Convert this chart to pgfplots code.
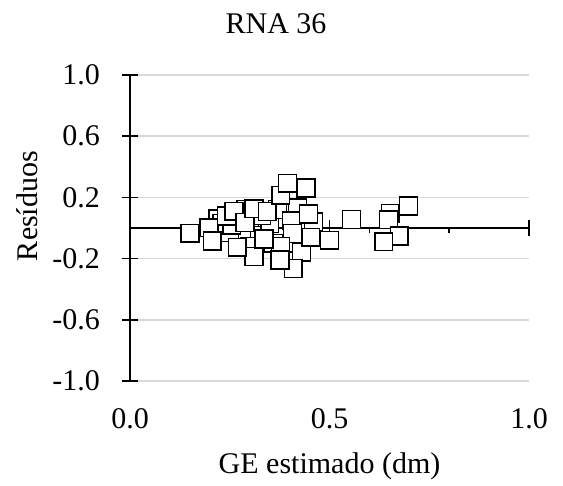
\documentclass[border=0pt]{standalone}
\usepackage{fontspec}
\setmainfont{Liberation Serif}
\usepackage{pgfplots}
\pgfplotsset{compat=1.18}
\begin{document}
\fontsize{30bp}{36bp}\selectfont
\begin{tikzpicture}
\path[use as bounding box] (0,0) rectangle (563bp,486bp);
\begin{axis}[
  scale only axis, width=399bp, height=306bp,
  at={(130bp,105bp)}, anchor=south west,
  xmin=0, xmax=1, ymin=-1, ymax=1,
  clip=false,
  axis line style={draw=none},
  xtick={0,0.5,1}, xticklabels={0.0,0.5,1.0},
  x tick style={draw=none},
  xtick pos=bottom,
  xticklabel style={anchor=base, yshift=-39bp, font=\fontsize{30bp}{36bp}\selectfont},
  ytick={-1,-0.6,-0.2,0.2,0.6,1}, yticklabels={-1.0,-0.6,-0.2,0.2,0.6,1.0},
  ytick pos=left,
  y tick style={black, line width=1.5bp},
  tick align=center, major tick length=16bp,
  yticklabel style={anchor=east, xshift=-12bp, font=\fontsize{30bp}{36bp}\selectfont},
  ymajorgrids, grid style={color=black!15, line width=1.5bp},
]
\addplot[black, line width=1.5bp] coordinates {(0,-1) (0,1)};
\addplot[black, line width=1.5bp] coordinates {(0,0) (1,0)};
\draw[line width=1.5bp] (axis cs:0.2,0) -- ([yshift=-5bp]axis cs:0.2,0);
\draw[line width=1.5bp] (axis cs:0.4,0) -- ([yshift=-5bp]axis cs:0.4,0);
\draw[line width=1.5bp] (axis cs:0.6,0) -- ([yshift=-5bp]axis cs:0.6,0);
\draw[line width=1.5bp] (axis cs:0.8,0) -- ([yshift=-5bp]axis cs:0.8,0);
\draw[line width=1.5bp] ([yshift=-8bp]axis cs:0.5,0) -- ([yshift=8bp]axis cs:0.5,0);
\draw[line width=1.5bp] ([yshift=-8bp]axis cs:1,0) -- ([yshift=8bp]axis cs:1,0);
\addplot[only marks, mark=square*, mark size=8.9bp,
  mark options={fill=white, draw=black, line width=1.5bp}] coordinates {
(0.22,0.06) (0.27,0.09) (0.30,0.00) (0.32,-0.05) (0.35,0.03) (0.36,-0.10)
(0.28,-0.07) (0.42,0.13) (0.44,0.00) (0.46,0.04) (0.39,-0.15) (0.33,0.08)
(0.25,-0.03) (0.30,-0.12) (0.42,-0.10) (0.37,0.12) (0.29,0.12) (0.23,0.03)
(0.150,-0.034) (0.198,0.002) (0.206,-0.085) (0.255,0.018) (0.242,0.078)
(0.261,0.110) (0.288,0.035) (0.311,0.126) (0.344,0.107) (0.378,0.214)
(0.395,0.292) (0.441,0.261) (0.405,0.048) (0.407,-0.035) (0.377,-0.120)
(0.430,-0.159) (0.409,-0.264) (0.311,-0.187) (0.336,-0.072) (0.500,-0.080)
(0.555,0.055) (0.269,-0.126) (0.447,0.092) (0.453,-0.061) (0.376,-0.210)
(0.652,0.096) (0.698,0.144) (0.648,0.054) (0.675,-0.052) (0.636,-0.090)
};
\end{axis}
\node[anchor=base] at (276bp,452bp) {RNA 36};
\node[anchor=base] at (329.5bp,13bp) {GE estimado (dm)};
\node[anchor=base, rotate=90] at (37bp,280bp) {Resíduos};
\end{tikzpicture}
\end{document}
